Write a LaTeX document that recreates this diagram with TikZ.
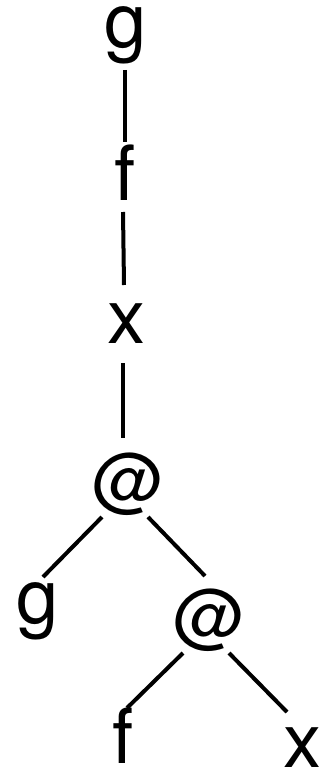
\documentclass[tikz,border=0pt]{standalone}
\usepackage{fontspec}
\setmainfont{TeX Gyre Heros}
\begin{document}
\begin{tikzpicture}[x=1pt,y=-1pt,
  lbl/.style={anchor=base,inner sep=0pt,font=\fontsize{76}{80}\selectfont},
  atlbl/.style={anchor=base,inner sep=0pt,font=\fontsize{71}{76}\selectfont},
  edge/.style={line width=4pt}]
\useasboundingbox (0,0) rectangle (329,768);
\node[lbl] (g1) at (126,48) {g};
\node[lbl] (f1) at (125,200) {f};
\node[lbl] (x1) at (126,343) {x};
\node[atlbl] (a1) at (129,505) {@};
\node[lbl] (g2) at (38,623) {g};
\node[atlbl] (a2) at (210,641) {@};
\node[lbl] (f2) at (123,763) {f};
\node[lbl] (x2) at (302,767) {x};
\draw[edge] ([shift={(-1,22)}]g1.base) -- ([shift={(0,-58)}]f1.base);
\draw[edge] ([shift={(-2,12)}]f1.base) -- ([shift={(-2,-58)}]x1.base);
\draw[edge] ([shift={(-3,20)}]x1.base) -- ([shift={(-6,-67)}]a1.base);
\draw[edge] ([shift={(-27,12)}]a1.base) -- ([shift={(5,-46)}]g2.base);
\draw[edge] ([shift={(19,12)}]a1.base) -- ([shift={(-5,-65)}]a2.base);
\draw[edge] ([shift={(-27,12)}]a2.base) -- ([shift={(4,-55)}]f2.base);
\draw[edge] ([shift={(19,12)}]a2.base) -- ([shift={(-15,-55)}]x2.base);
\end{tikzpicture}
\end{document}
